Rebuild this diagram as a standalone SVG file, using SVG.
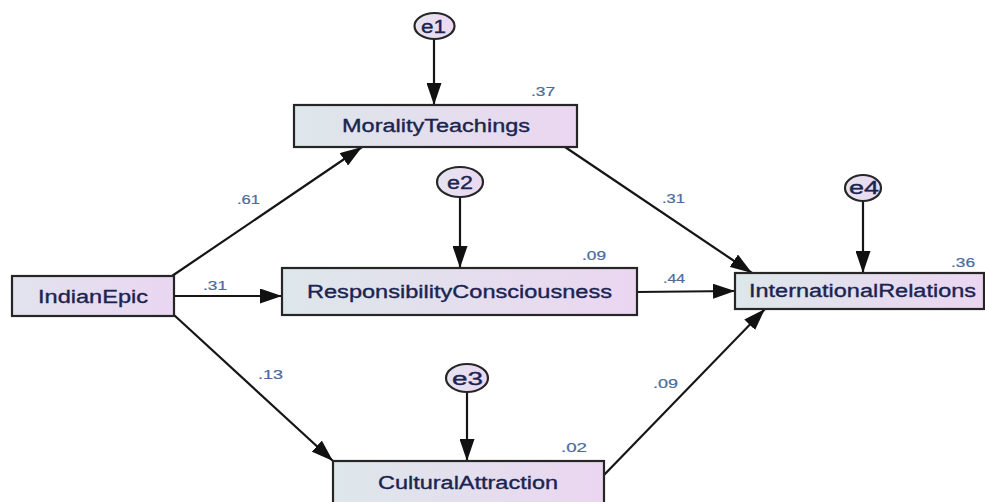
<svg xmlns="http://www.w3.org/2000/svg" width="985" height="502" viewBox="0 0 985 502">
<defs>
<linearGradient id="boxfill" x1="0" y1="0" x2="1" y2="0">
<stop offset="0" stop-color="#dde7ea"/>
<stop offset="1" stop-color="#ebd6f1"/>
</linearGradient>
<linearGradient id="epicfill" x1="0" y1="0" x2="1" y2="0">
<stop offset="0" stop-color="#e2e3ee"/>
<stop offset="1" stop-color="#ead6f1"/>
</linearGradient>
<linearGradient id="errfill" x1="0" y1="0" x2="1" y2="0">
<stop offset="0" stop-color="#e4e4ef"/>
<stop offset="1" stop-color="#ecd8f2"/>
</linearGradient>
<marker id="arr" markerUnits="userSpaceOnUse" markerWidth="23" markerHeight="15" refX="22" refY="7.5" orient="auto">
<path d="M0,0 L22,7.5 L0,15 z" fill="#111"/>
</marker>
</defs>
<style>
.box{fill:url(#boxfill);stroke:#262626;stroke-width:2.2}
.err{fill:url(#errfill);stroke:#262626;stroke-width:2.2}
.lbl{font-family:"Liberation Sans",Arial,sans-serif;font-size:18px;fill:#1b2450;stroke:#1b2450;stroke-width:0.35}
.elbl{font-family:"Liberation Sans",Arial,sans-serif;font-size:18px;fill:#1b2450;stroke:#1b2450;stroke-width:0.35}
.num{font-family:"Liberation Sans",Arial,sans-serif;font-size:12.5px;fill:#4a6b9c;stroke:#4a6b9c;stroke-width:0.2}
.edge{stroke:#151515;stroke-width:2.2;fill:none;marker-end:url(#arr)}
</style>
<rect width="985" height="502" fill="#ffffff"/>
<g id="connectors">
<line class="edge" x1="434" y1="39" x2="434" y2="105"/>
<line class="edge" x1="460" y1="197" x2="460" y2="268"/>
<line class="edge" x1="467" y1="392" x2="467" y2="461"/>
<line class="edge" x1="863" y1="201" x2="863" y2="273"/>
<line class="edge" x1="172" y1="276" x2="362" y2="147"/>
<line class="edge" x1="174" y1="296" x2="282" y2="296"/>
<line class="edge" x1="174" y1="315" x2="333" y2="461"/>
<line class="edge" x1="565" y1="147" x2="752" y2="273"/>
<line class="edge" x1="637" y1="292" x2="735" y2="291"/>
<line class="edge" x1="604" y1="475" x2="765" y2="309"/>
</g>
<g id="labels">
<text class="num" x="531" y="96" textLength="24" lengthAdjust="spacingAndGlyphs">.37</text>
<text class="num" x="237" y="204" textLength="23" lengthAdjust="spacingAndGlyphs">.61</text>
<text class="num" x="203" y="290" textLength="24" lengthAdjust="spacingAndGlyphs">.31</text>
<text class="num" x="582" y="260" textLength="24" lengthAdjust="spacingAndGlyphs">.09</text>
<text class="num" x="662" y="203" textLength="23" lengthAdjust="spacingAndGlyphs">.31</text>
<text class="num" x="663" y="283" textLength="22" lengthAdjust="spacingAndGlyphs">.44</text>
<text class="num" x="951" y="267" textLength="24" lengthAdjust="spacingAndGlyphs">.36</text>
<text class="num" x="258" y="379" textLength="25" lengthAdjust="spacingAndGlyphs">.13</text>
<text class="num" x="561" y="452" textLength="26" lengthAdjust="spacingAndGlyphs">.02</text>
<text class="num" x="653" y="388" textLength="25" lengthAdjust="spacingAndGlyphs">.09</text>
</g>
<g id="e1">
<ellipse class="err" cx="434.5" cy="26" rx="20" ry="13"/>
<text class="elbl" x="421" y="33" textLength="25" lengthAdjust="spacingAndGlyphs">e1</text>
</g>
<g id="e2">
<ellipse class="err" cx="460" cy="182" rx="23" ry="15"/>
<text class="elbl" x="447" y="189" textLength="26" lengthAdjust="spacingAndGlyphs">e2</text>
</g>
<g id="e3">
<ellipse class="err" cx="467" cy="378" rx="21" ry="14"/>
<text class="elbl" x="452" y="385" textLength="31" lengthAdjust="spacingAndGlyphs">e3</text>
</g>
<g id="e4">
<ellipse class="err" cx="863" cy="188" rx="18" ry="13"/>
<text class="elbl" x="849" y="194" textLength="30" lengthAdjust="spacingAndGlyphs">e4</text>
</g>
<g id="MoralityTeachings">
<rect class="box" x="294" y="105" width="283" height="42"/>
<text class="lbl" x="342" y="132" textLength="188" lengthAdjust="spacingAndGlyphs">MoralityTeachings</text>
</g>
<g id="IndianEpic">
<rect class="box" x="12" y="276" width="162" height="40" style="fill:url(#epicfill)"/>
<text class="lbl" x="38" y="303" textLength="110" lengthAdjust="spacingAndGlyphs">IndianEpic</text>
</g>
<g id="ResponsibilityConsciousness">
<rect class="box" x="282" y="268" width="355" height="47"/>
<text class="lbl" x="307" y="298" textLength="305" lengthAdjust="spacingAndGlyphs">ResponsibilityConsciousness</text>
</g>
<g id="InternationalRelations">
<rect class="box" x="735" y="273" width="249" height="36"/>
<text class="lbl" x="749" y="297" textLength="227" lengthAdjust="spacingAndGlyphs">InternationalRelations</text>
</g>
<g id="CulturalAttraction">
<rect class="box" x="333" y="461" width="271" height="44"/>
<text class="lbl" x="378" y="489" textLength="180" lengthAdjust="spacingAndGlyphs">CulturalAttraction</text>
</g>
</svg>
